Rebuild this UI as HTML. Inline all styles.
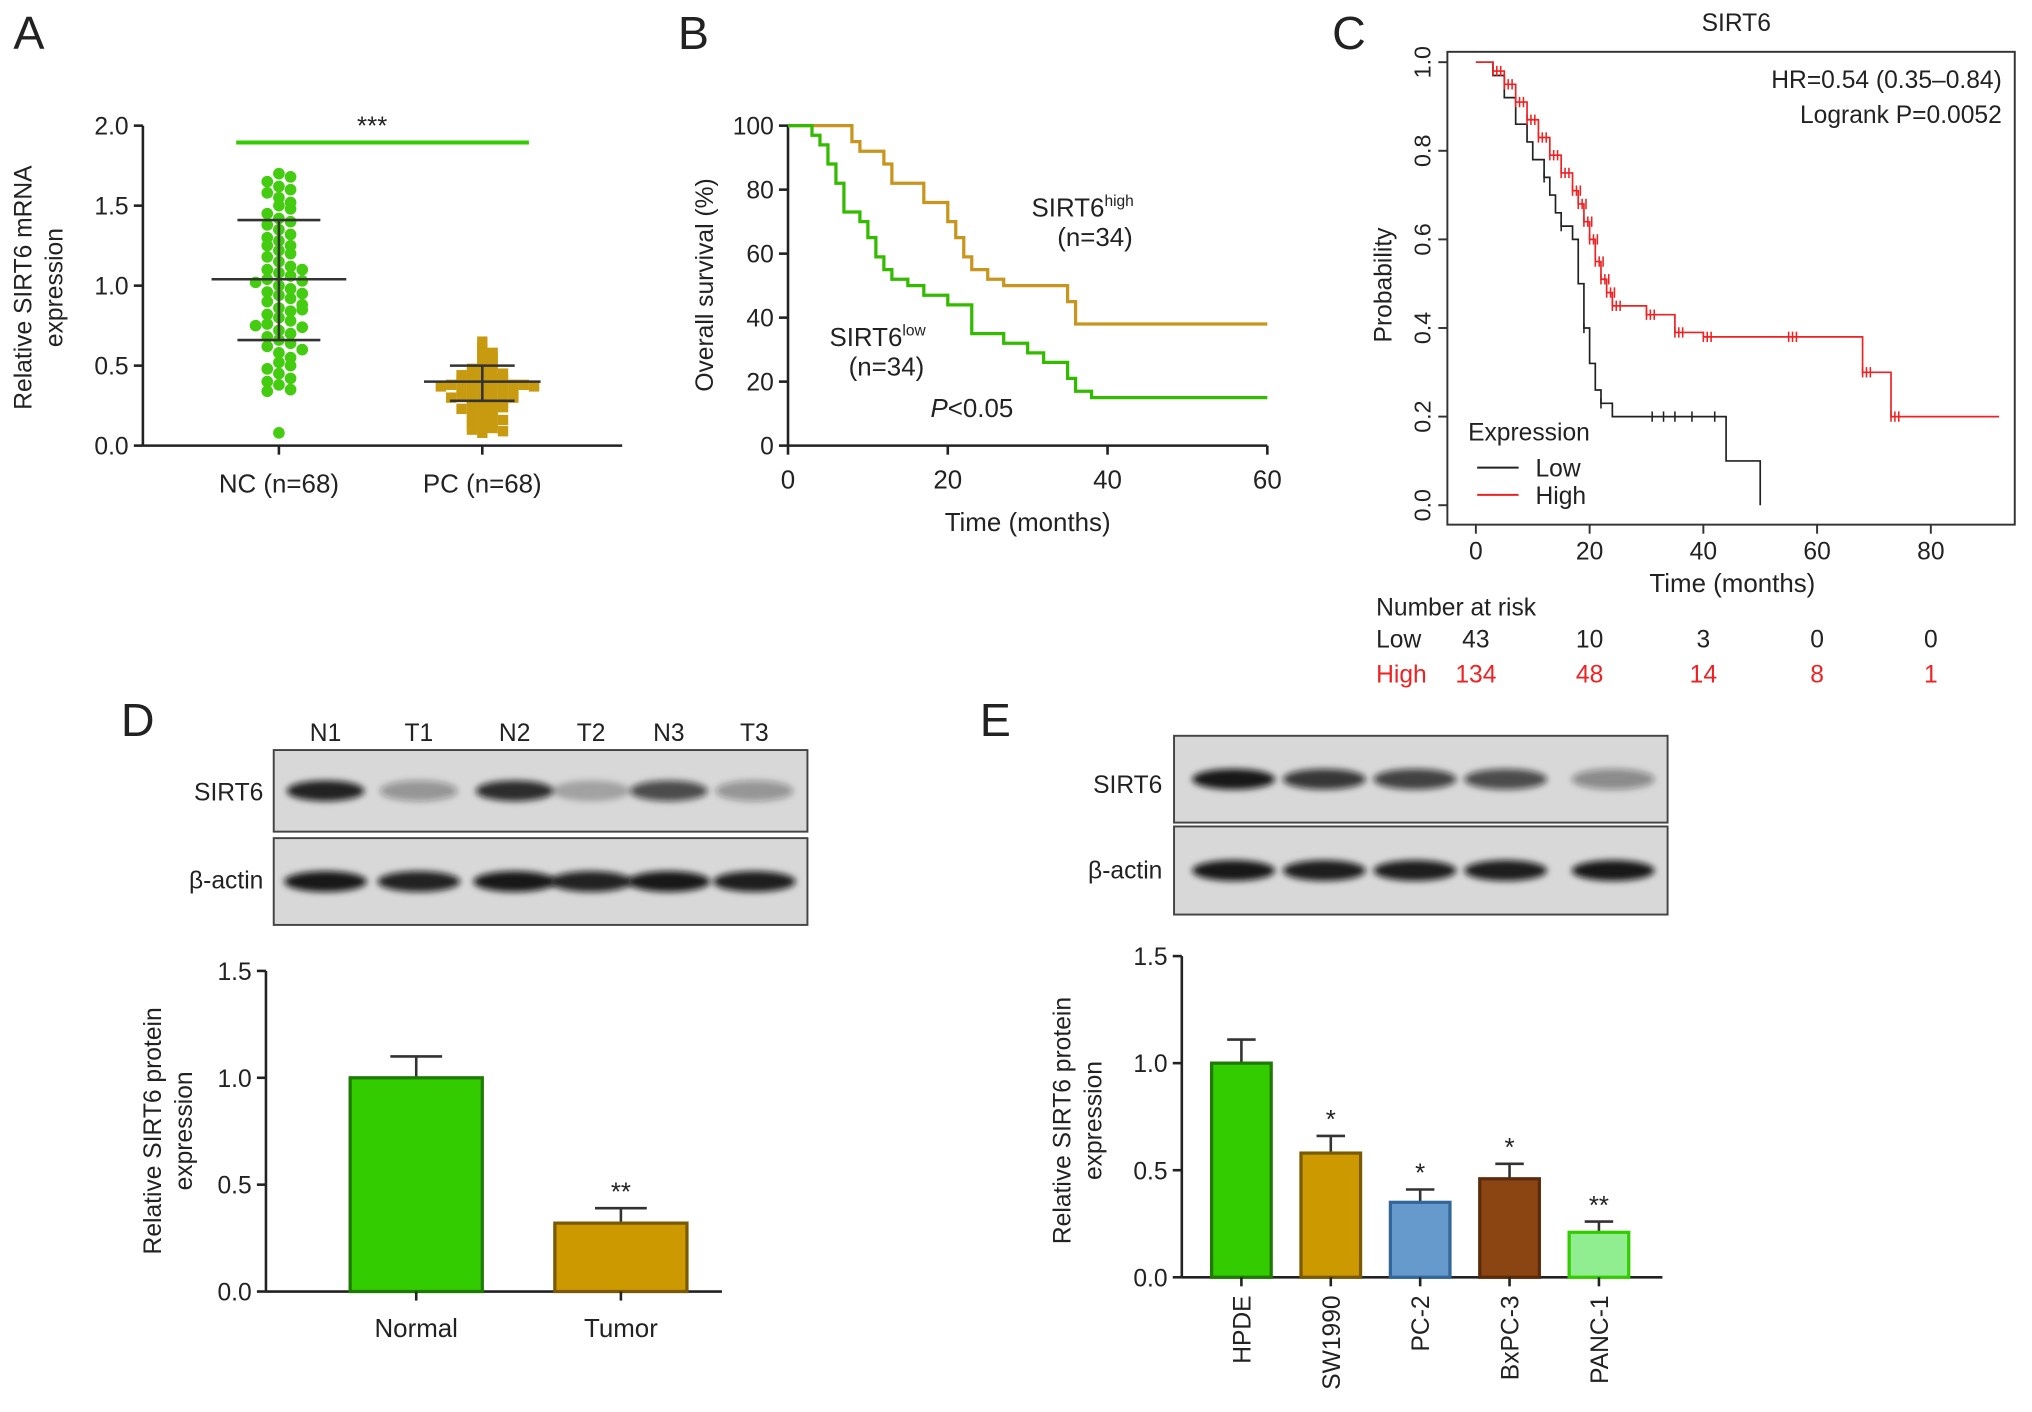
<!DOCTYPE html>
<html><head><meta charset="utf-8"><style>
html,body{margin:0;padding:0;background:#fff}
svg{display:block}
text{font-family:"Liberation Sans",Arial,sans-serif}
</style></head><body>
<svg id="fig" width="2032" height="1412" viewBox="0 0 1568 1090" xmlns="http://www.w3.org/2000/svg">
<defs><filter id="blur" x="-20%" y="-50%" width="140%" height="200%"><feGaussianBlur stdDeviation="2.5"/></filter></defs>
<g id="A"></g>
<g id="B"></g>
<g id="C"></g>
<g id="D"></g>
<g id="E"></g>
</svg>
<script>
// ---------- data ----------
const aNC=[1.7,1.68,1.65,1.62,1.6,1.58,1.55,1.52,1.5,1.48,1.45,1.42,1.4,1.38,1.35,1.32,1.3,1.28,1.25,1.22,1.2,1.18,1.15,1.12,1.1,1.08,1.06,1.04,1.03,1.02,1.0,0.98,0.96,0.94,0.92,0.9,0.88,0.86,0.84,0.82,0.8,0.78,0.76,0.74,0.72,0.7,0.68,0.66,0.64,0.62,0.6,0.58,0.55,0.52,0.5,0.48,0.45,0.42,0.4,0.38,0.35,0.34,1.1,1.25,0.95,0.85,0.75,0.08];
const aPC=[0.65,0.62,0.6,0.58,0.56,0.55,0.54,0.52,0.5,0.5,0.48,0.47,0.46,0.45,0.45,0.44,0.43,0.42,0.42,0.41,0.41,0.4,0.4,0.4,0.39,0.39,0.38,0.38,0.38,0.37,0.37,0.36,0.36,0.35,0.35,0.34,0.34,0.33,0.33,0.32,0.32,0.31,0.3,0.3,0.29,0.28,0.28,0.27,0.26,0.25,0.25,0.24,0.23,0.22,0.21,0.2,0.19,0.18,0.17,0.16,0.15,0.14,0.13,0.12,0.11,0.1,0.09,0.08];
const aStats={ncMean:1.04,ncSDhi:1.41,ncSDlo:0.66,pcMean:0.4,pcSDhi:0.5,pcSDlo:0.28};
const bHighT=[0,8,9,12,13,17,20,21,22,23,25,27,35,36,60];
const bHighS=[100,95,92,88,82,76,70,65,59,55,52,50,45,38,38];
const bLowT=[0,3,4,5,6,7,9,10,11,12,13,15,17,20,23,27,30,32,35,36,38,60];
const bLowS=[100,97,94,88,82,73,70,65,59,55,52,50,47,44,35,32,29,26,21,17,15,15];
const cLowT=[0,3,5,7,9,10,12,13,14,15,17,18,19,20,21,22,24,28,44,50];
const cLowS=[1,0.97,0.92,0.86,0.82,0.78,0.74,0.7,0.66,0.63,0.6,0.5,0.4,0.32,0.26,0.23,0.2,0.2,0.1,0];
const cHighT=[0,3,5,7,9,11,13,15,17,18,19,20,21,22,23,24,30,35,40,55,68,73,92];
const cHighS=[1,0.98,0.95,0.91,0.87,0.83,0.79,0.75,0.71,0.68,0.64,0.6,0.55,0.51,0.48,0.45,0.43,0.39,0.38,0.38,0.3,0.2,0.2];
const cRiskLow=[43,10,3,0,0];
const cRiskHigh=[134,48,14,8,1];
const dCats=["Normal","Tumor"],dVals=[1.0,0.32],dErr=[0.1,0.07];
const eCats=["HPDE","SW1990","PC-2","BxPC-3","PANC-1"],eVals=[1.0,0.58,0.35,0.46,0.21],eErr=[0.11,0.08,0.06,0.07,0.05],eStars=["","*","*","*","**"];
const yTicks=[0,0.5,1.0,1.5],aTicks=[0,0.5,1.0,1.5,2.0];

// ---------- helpers ----------
const NS="http://www.w3.org/2000/svg";
function mk(p,tag,at,txt){const e=document.createElementNS(NS,tag);for(const k in at)e.setAttribute(k,at[k]);if(txt!==undefined)e.textContent=txt;p.appendChild(e);return e;}
function line(p,x1,y1,x2,y2,c,w){return mk(p,"line",{x1,y1,x2,y2,stroke:c||"#222","stroke-width":w||2});}
function txt(p,x,y,s,sz,anchor,fill,extra){return mk(p,"text",Object.assign({x,y,"font-size":sz||19,"text-anchor":anchor||"middle",fill:fill||"#222"},extra||{}),s);}
function stepPath(ts,ss,X,Y){let d="M"+X(ts[0])+","+Y(ss[0]);for(let i=1;i<ts.length;i++){d+="H"+X(ts[i])+"V"+Y(ss[i]);}return d;}
function yAxis(p,x,Y,ticks,fmt,y0,y1){line(p,x,Y(y0),x,Y(y1));ticks.forEach(t=>{line(p,x-7,Y(t),x,Y(t));const e=txt(p,x-11,Y(t)+7,fmt(t),19,"end");});}
function label(p,t,x,y){const e=txt(p,x,y,t,36,"start");}
function swarm(vals,bin,step){const counts={};return vals.map(v=>{const b=Math.round(v/bin);const k=counts[b]||0;counts[b]=k+1;return (k%2?1:-1)*Math.ceil(k/2)*step;});}

// ---------- Panel A ----------
(function(){
const g=document.getElementById("A");label(g,"A",10,38);
const Y=v=>344-v*123.5;
yAxis(g,110,Y,aTicks,t=>t.toFixed(1),0,2);
line(g,110,344,480,344);
[215,372].forEach(x=>line(g,x,344,x,351));
txt(g,215,380,"NC (n=68)",20);txt(g,372,380,"PC (n=68)",20);
const yl=txt(g,0,0,"Relative SIRT6 mRNA",19,"middle","#222",{transform:"translate(24,222) rotate(-90)"});

txt(g,0,0,"expression",19,"middle","#222",{transform:"translate(48,222) rotate(-90)"});
line(g,182,110,408,110,"#33cc00",3);txt(g,287,104,"***",20);
const jn=swarm(aNC,0.07,9),jp=swarm(aPC,0.035,8);
aNC.forEach((v,i)=>{const c=mk(g,"circle",{cx:215+jn[i],cy:Y(v),r:4.5,fill:"#44cc11"});});
aPC.forEach((v,i)=>{const r=mk(g,"rect",{x:372+jp[i]-4,y:Y(v)-4,width:8,height:8,fill:"#c89a10"});});
[[215,aStats.ncMean,aStats.ncSDhi,aStats.ncSDlo,32],[372,aStats.pcMean,aStats.pcSDhi,aStats.pcSDlo,25]].forEach(a=>{
line(g,a[0]-a[4]-20,Y(a[1]),a[0]+a[4]+20,Y(a[1]),"#333",2);line(g,a[0],Y(a[2]),a[0],Y(a[3]),"#333",2);
line(g,a[0]-a[4],Y(a[2]),a[0]+a[4],Y(a[2]),"#333",2);line(g,a[0]-a[4],Y(a[3]),a[0]+a[4],Y(a[3]),"#333",2);});
})();

// ---------- Panel B ----------
(function(){
const g=document.getElementById("B");label(g,"B",523,38);
const X=t=>608+t*6.167,Y=s=>344-s*2.47;
yAxis(g,608,Y,[0,20,40,60,80,100],t=>t,0,100);
line(g,608,344,978,344);
[0,20,40,60].forEach(t=>{line(g,X(t),344,X(t),351);txt(g,X(t),377,t,20);});
txt(g,793,410,"Time (months)",20);
txt(g,0,0,"Overall survival (%)",19,"middle","#222",{transform:"translate(550,220) rotate(-90)"});
const h=mk(g,"path",{d:stepPath(bHighT,bHighS,X,Y),fill:"none",stroke:"#c8961e","stroke-width":2.5});
const l=mk(g,"path",{d:stepPath(bLowT,bLowS,X,Y),fill:"none",stroke:"#33bb00","stroke-width":2.5});
const t1=txt(g,796,167,"SIRT6",20,"start");mk(t1,"tspan",{"font-size":12,dy:-8},"high");
txt(g,845,190,"(n=34)",20);
const t2=txt(g,640,267,"SIRT6",20,"start");mk(t2,"tspan",{"font-size":12,dy:-8},"low");
txt(g,684,290,"(n=34)",20);
const p=txt(g,718,322,"",20,"start");mk(p,"tspan",{"font-style":"italic"},"P");mk(p,"tspan",{},"<0.05");
})();

// ---------- Panel C ----------
(function(){
const g=document.getElementById("C");label(g,"C",1028,38);
const X=t=>1139+t*4.39,Y=s=>390-s*342;
mk(g,"rect",{x:1117,y:40,width:438,height:365,fill:"none",stroke:"#333","stroke-width":1.5});
txt(g,1340,24,"SIRT6",19);
[0,0.2,0.4,0.6,0.8,1.0].forEach(t=>{line(g,1110,Y(t),1117,Y(t),"#333",1.5);txt(g,0,0,t.toFixed(1),18,"middle","#222",{transform:`translate(1104,${Y(t)}) rotate(-90)`});});
[0,20,40,60,80].forEach(t=>{line(g,X(t),405,X(t),412,"#333",1.5);txt(g,X(t),432,t,19);});
txt(g,1337,457,"Time (months)",20);
txt(g,0,0,"Probability",19,"middle","#222",{transform:"translate(1074,220) rotate(-90)"});
txt(g,1545,68,"HR=0.54 (0.35\u20130.84)",19,"end");txt(g,1545,95,"Logrank P=0.0052",19,"end");
mk(g,"path",{d:stepPath(cLowT,cLowS,X,Y),fill:"none",stroke:"#222","stroke-width":1.3});
mk(g,"path",{d:stepPath(cHighT,cHighS,X,Y),fill:"none",stroke:"#ee2222","stroke-width":1.3});
cHighT.forEach((t,i)=>{if(i>0&&i<cHighT.length-1){for(let k=0;k<3;k++){const xx=X(t)+k*3;line(g,xx,Y(cHighS[i])-4,xx,Y(cHighS[i])+4,"#ee2222",1.2);}}});
cLowT.forEach((t,i)=>{if(i>3&&i<cLowT.length-2&&i%3==0){line(g,X(t),Y(cLowS[i])-4,X(t),Y(cLowS[i])+4,"#222",1.2);}});
[31,33,35,38,42].forEach(t=>line(g,X(t),Y(0.2)-4,X(t),Y(0.2)+4,"#222",1.2));
txt(g,1133,340,"Expression",19,"start");
line(g,1140,361,1172,361,"#222",1.5);txt(g,1185,368,"Low",19,"start");
line(g,1140,382,1172,382,"#ee2222",1.5);txt(g,1185,389,"High",19,"start");
txt(g,1062,475,"Number at risk",19,"start");
txt(g,1062,500,"Low",19,"start");txt(g,1062,527,"High",19,"start","#ee2222");
[0,20,40,60,80].forEach((t,i)=>{txt(g,X(t),500,cRiskLow[i],19);txt(g,X(t),527,cRiskHigh[i],19,"middle","#ee2222");});
})();

// ---------- blots ----------
function blot(g,x,y,w,h,xs,ints,bw){
mk(g,"rect",{x,y,width:w,height:h,fill:"#d8d8d8",stroke:"#444","stroke-width":1.5});
xs.forEach((cx,i)=>{mk(g,"ellipse",{cx,cy:y+h/2,rx:bw,ry:8,fill:"#111","fill-opacity":ints[i],filter:"url(#blur)"});});
}
// ---------- Panel D ----------
(function(){
const g=document.getElementById("D");label(g,"D",93,568);
const lx=[251,323,397,456,516,582];
["N1","T1","N2","T2","N3","T3"].forEach((s,i)=>txt(g,lx[i],572,s,19));
blot(g,211,579,412,63,lx,[0.9,0.35,0.85,0.25,0.7,0.35],30);
blot(g,211,647,412,67,lx,[0.95,0.9,0.95,0.9,0.95,0.92],32);
txt(g,203,618,"SIRT6",19,"end");txt(g,203,686,"\u03b2-actin",19,"end");
const Y=v=>997-v*165,Xc=i=>321+i*158;
yAxis(g,205,Y,yTicks,t=>t.toFixed(1),0,1.5);
line(g,205,997,557,997);
txt(g,0,0,"Relative SIRT6 protein",19,"middle","#222",{transform:"translate(124,873) rotate(-90)"});
txt(g,0,0,"expression",19,"middle","#222",{transform:"translate(148,873) rotate(-90)"});
const cols=["#33cc00","#cc9900"],stroke=["#1e7a00","#7a5a00"];
dVals.forEach((v,i)=>{const x=Xc(i);
line(g,x,Y(v),x,Y(v+dErr[i]),"#333",2);line(g,x-20,Y(v+dErr[i]),x+20,Y(v+dErr[i]),"#333",2);
const r=mk(g,"rect",{x:x-51,y:Y(v),width:102,height:Y(0)-Y(v),fill:cols[i],stroke:stroke[i],"stroke-width":2.5});

line(g,x,997,x,1004);txt(g,x,1032,dCats[i],20);});
txt(g,Xc(1),Y(dVals[1]+dErr[1])-6,"**",20);
})();

// ---------- Panel E ----------
(function(){
const g=document.getElementById("E");label(g,"E",756,568);
const bx=[952,1022,1092,1162,1245];
blot(g,906,568,381,67,bx,[0.95,0.8,0.75,0.7,0.4],32);
blot(g,906,638,381,68,bx,[0.95,0.92,0.92,0.92,0.95],32);
txt(g,897,612,"SIRT6",19,"end");txt(g,897,678,"\u03b2-actin",19,"end");
const Y=v=>986-v*165.3,Xc=i=>958+i*69;
yAxis(g,912,Y,yTicks,t=>t.toFixed(1),0,1.5);
line(g,912,986,1283,986);
txt(g,0,0,"Relative SIRT6 protein",19,"middle","#222",{transform:"translate(826,865) rotate(-90)"});
txt(g,0,0,"expression",19,"middle","#222",{transform:"translate(850,865) rotate(-90)"});
const cols=["#33cc00","#cc9900","#6699cc","#8b4513","#90ee90"],st=["#1e7a00","#7a5a00","#336699","#5a2a0a","#33cc00"];
eVals.forEach((v,i)=>{const x=Xc(i);
line(g,x,Y(v),x,Y(v+eErr[i]),"#333",2);line(g,x-11,Y(v+eErr[i]),x+11,Y(v+eErr[i]),"#333",2);
const r=mk(g,"rect",{x:x-23,y:Y(v),width:46,height:Y(0)-Y(v),fill:cols[i],stroke:st[i],"stroke-width":2.5});

line(g,x,986,x,993);
txt(g,0,0,eCats[i],19,"end","#222",{transform:`translate(${x+7},1000) rotate(-90)`});
if(eStars[i])txt(g,x,Y(v+eErr[i])-6,eStars[i],20);});
})();
</script>
</body></html>
